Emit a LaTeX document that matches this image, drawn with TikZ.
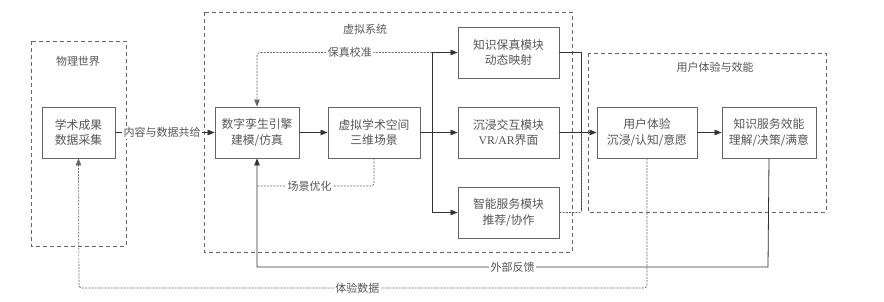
\documentclass[tikz,border=0pt]{standalone}
\usepackage{fontspec}
\setmainfont{Liberation Serif}
\newfontfamily\cjk{Noto Sans CJK SC}
\usetikzlibrary{arrows.meta,calc}
\definecolor{txt}{HTML}{555555}
\definecolor{edge}{HTML}{666666}
\definecolor{ln}{HTML}{333333}
\tikzset{
  box/.style={draw=edge, line width=0.9pt, minimum height=51pt, align=center, inner sep=1pt,
    text=txt, font=\fontsize{11.8}{15.5}\selectfont},
  grp/.style={draw=edge, line width=0.7pt, dash pattern=on 4pt off 3pt},
  ttl/.style={text=txt, font=\cjk\fontsize{11}{13}\selectfont},
  conn/.style={draw=ln, line width=0.8pt},
  arr/.style={conn, -{Triangle[length=7pt,width=5.5pt]}},
  dsh/.style={draw=edge, line width=0.7pt, dash pattern=on 2pt off 1.2pt},
  lbl/.style={fill=white, text=txt, inner sep=1.5pt, font=\cjk\fontsize{11}{13}\selectfont},
}
\begin{document}
\begin{tikzpicture}[x=1pt,y=-1pt]
\useasboundingbox (0,0) rectangle (884,302);
% groups
\draw[grp] (31,41) rectangle (126,246);
\node[ttl] (tphys) at (78,61) {物理世界};
\draw[grp] (204,12) rectangle (572,252);
\node[ttl] (tvirt) at (365,29) {虚拟系统};
\draw[grp] (588,53) rectangle (826,212);
\node[ttl] (tuser) at (715,67) {用户体验与效能};
% nodes
\node[box, minimum width=73pt] (phys) at (78.5,132.5) {\cjk 学术成果\\\cjk 数据采集};
\node[box, minimum width=84pt] (twin) at (257,132.5) {\cjk 数字孪生引擎\\\cjk 建模/仿真};
\node[box, minimum width=92pt] (space) at (374,132.5) {\cjk 虚拟学术空间\\\cjk 三维场景};
\node[box, minimum width=101pt] (fid) at (508.5,52.5) {\cjk 知识保真模块\\\cjk 动态映射};
\node[box, minimum width=101pt] (imm) at (508.5,132.5) {\cjk 沉浸交互模块\\VR/AR{\cjk 界面}};
\node[box, minimum width=101pt] (svc) at (508.5,212.5) {\cjk 智能服务模块\\\cjk 推荐/协作};
\node[box, minimum width=100pt] (ux) at (647,132.5) {\cjk 用户体验\\\cjk 沉浸/认知/意愿};
\node[box, minimum width=94pt] (eff) at (769,132.5) {\cjk 知识服务效能\\\cjk 理解/决策/满意};
% coordinates
\coordinate (br) at (432,132.5);
\coordinate (bt) at (432,52.5);
\coordinate (mg) at (581.5,132.5);
\coordinate (mgb) at (581.5,209);
\coordinate (fb1) at (768,267);
\coordinate (fb2) at (257,267);
\coordinate (ex1) at (647,288);
\coordinate (ex2) at (79,288);
\coordinate (bc) at (257,52.5);
\coordinate (so0) at (374,186);
\coordinate (so1) at (257,186);
% connectors
\draw[arr] (phys.east) -- node[lbl, pos=0.47] {内容与数据共给} (twin.west);
\draw[arr] (twin.east) -- (space.west);
\draw[conn] (space.east) -- (br);
\draw[arr] (br) -- (imm.west);
\draw[arr] (br) |- (fid.west);
\draw[arr] (br) |- (svc.west);
\draw[conn] (fid.east) -| (mgb);
\draw[dsh, rounded corners=2pt] (svc.east) -| (mg);
\draw[arr] (imm.east) -- (ux.west);
\draw[arr] (ux.east) -- (eff.west);
\draw[arr] (eff.south) -- (fb1) -- node[lbl] {外部反馈} (fb2) -- (twin.south);
\draw[dsh, rounded corners=3pt, -{Triangle[length=7pt,width=5.5pt]}] (ux.south) -- (ex1) -- node[lbl, pos=0.51] {体验数据} (ex2) -- (phys.south);
\draw[dsh, rounded corners=3pt, -{Triangle[length=7pt,width=5.5pt]}] (bt) -- node[lbl, pos=0.47] {保真校准} (bc) -- (twin.north);
\draw[dsh, rounded corners=3pt] (space.south) -- (so0) -- node[lbl, pos=0.55] {场景优化} (so1);
\end{tikzpicture}
\end{document}
